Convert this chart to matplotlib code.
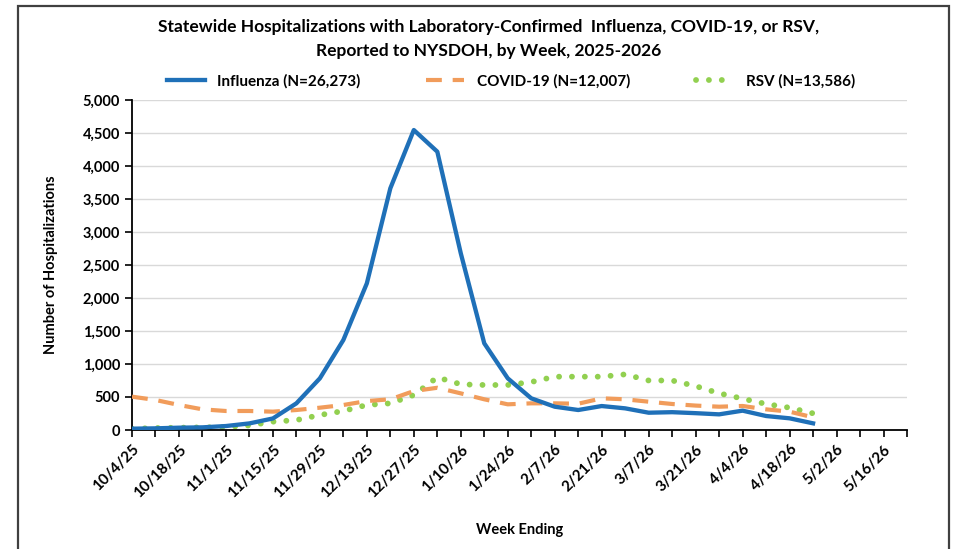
import matplotlib
matplotlib.use("Agg")
import matplotlib.pyplot as plt
from matplotlib.patches import Rectangle

plt.rcParams['font.family'] = ['Lato', 'DejaVu Sans']

# week ending dates (34 categories on the axis, data through 4/25/26)
weeks = ["10/4/25", "10/11/25", "10/18/25", "10/25/25", "11/1/25", "11/8/25",
         "11/15/25", "11/22/25", "11/29/25", "12/6/25", "12/13/25", "12/20/25",
         "12/27/25", "1/3/26", "1/10/26", "1/17/26", "1/24/26", "1/31/26",
         "2/7/26", "2/14/26", "2/21/26", "2/28/26", "3/7/26", "3/14/26",
         "3/21/26", "3/28/26", "4/4/26", "4/11/26", "4/18/26", "4/25/26",
         "5/2/26", "5/9/26", "5/16/26", "5/23/26"]

influenza = [20, 25, 35, 40, 60, 100, 175, 404, 783, 1364, 2222, 3662,
             4545, 4217, 2677, 1313, 783, 480, 353, 303, 363, 328, 262, 270,
             255, 237, 293, 212, 177, 101]
covid = [505, 455, 379, 313, 288, 288, 278, 303, 338, 379, 439, 465,
         590, 640, 555, 465, 389, 404, 404, 398, 480, 465, 429, 394,
         370, 353, 364, 313, 278, 192]
rsv = [20, 30, 35, 40, 45, 70, 126, 150, 227, 288, 379, 404,
       530, 798, 692, 682, 682, 727, 808, 808, 808, 843, 750, 750,
       665, 556, 475, 394, 338, 252]

yticks = list(range(0, 5001, 500))

fig = plt.figure(figsize=(9.55, 5.49), dpi=100)
ax = fig.add_axes([132/955, 1-430/549, (907-132)/955, 330/549])

x = list(range(len(influenza)))
ax.plot(x, influenza, color='#1F70B8', lw=3.1, solid_joinstyle='round',
        label='Influenza (N=26,273)', zorder=4)
ax.plot(x, covid, color='#F19C5B', lw=3.0, linestyle=(0, (3.8, 2.6)),
        label='COVID-19 (N=12,007)', zorder=3)
ax.plot(x, rsv, color='#92D050', lw=4.2, linestyle=(0, (0.01, 2.2)),
        dash_capstyle='round', label='RSV (N=13,586)', zorder=2)

ax.set_xlim(0, len(weeks) - 1)
ax.set_ylim(0, 5000)
ax.set_yticks(yticks)
ax.set_yticklabels([f"{v:,}" for v in yticks], fontsize=10.5, fontweight='bold')
ax.set_xticks(range(len(weeks)))
ax.set_xticklabels([w if i % 2 == 0 else "" for i, w in enumerate(weeks)],
                   rotation=45, ha='right', rotation_mode='anchor',
                   fontsize=11, fontweight='bold')
ax.tick_params(axis='both', direction='out', length=5, width=1.2, color='black')
ax.tick_params(axis='x', pad=4)
ax.grid(axis='y', color='#D9D9D9', lw=1)
ax.set_axisbelow(True)
for s in ['top', 'right']:
    ax.spines[s].set_visible(False)
for s in ['left', 'bottom']:
    ax.spines[s].set_linewidth(1.3)

ax.set_ylabel("Number of Hospitalizations", fontsize=10.5, fontweight='bold', labelpad=18)
ax.set_xlabel("Week Ending", fontsize=10.5, fontweight='bold', labelpad=16)

fig.text(0.512, 0.951, "Statewide Hospitalizations with Laboratory-Confirmed  Influenza, COVID-19, or RSV,",
         ha='center', va='center', fontsize=12.5, fontweight='bold')
fig.text(0.512, 0.907, "Reported to NYSDOH, by Week, 2025-2026",
         ha='center', va='center', fontsize=12.5, fontweight='bold')

fig.legend(loc='center', bbox_to_anchor=(511/955, 0.8525), ncol=3, frameon=False,
           prop={'size': 11, 'weight': 'bold'}, handlelength=2.5,
           columnspacing=4.3, handletextpad=0.8)

fig.patches.append(Rectangle((18/955, -0.05), (949-18)/955, 1.05 - 6/549,
                             transform=fig.transFigure, fill=False,
                             edgecolor='#404040', lw=1.6))

fig.savefig("out.png", dpi=100)
